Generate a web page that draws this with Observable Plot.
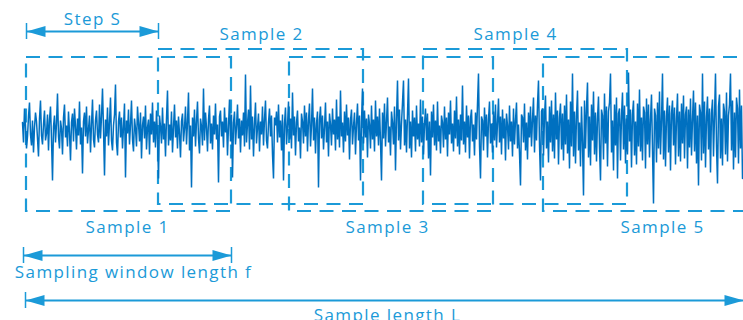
<!DOCTYPE html>
<html>
<head>
<meta charset="utf-8">
<script src="https://cdn.jsdelivr.net/npm/d3@7"></script>
<script src="https://cdn.jsdelivr.net/npm/@observablehq/plot@0.6"></script>
<style>
  html, body { margin: 0; padding: 0; background: #fff; }
  #chart { width: 743px; height: 320px; overflow: hidden; }
</style>
</head>
<body>
<div id="chart"></div>
<script>
// ---- Data (time in samples, amplitude in signal units) ----
// Signal amplitude, one value per time unit, starting at t = 0
const signal = [
  8, -12, 22, 5, -18, -6, 14, 28, -4, -15, 10, -22, 3, 18, 9, -8, -26, 12, 30, -5,
  -14, 6, 20, -10, -3, 16, -20, 11, 24, -9, -50, 4, 15, -12, 7, 37, -6, -18, 10, 2,
  -24, 13, 26, -7, 5, -16, 19, -2, -30, 8, 17, -11, 22, 4, -19, 12, -5, 29, -14, 3,
  -43, 9, 18, -6, 24, -13, 1, 15, -22, 6, 31, -9, -17, 10, 20, -4, -12, 26, -8, 14,
  42, 2, -45, 11, -6, 23, -15, 8, 33, -10, -20, 5, 16, 46, -12, -25, 9, 19, -7, 13,
  -18, 4, 27, -47, 10, -3, 21, -14, 6, 30, -9, -21, 12, 2, -16, 24, 7, -11, 18, -28,
  5, 14, -8, 25, -19, 3, 11, -24, 17, -4, 28, -12, 9, -17, 20, -6, -48, 15, 4, -13,
  23, -9, 7, -26, 12, 40, -15, 6, -10, 19, -22, 3, 26, -7, 10, -18, 14, -3, -27, 9,
  17, -11, 2, 24, -14, 8, 38, -20, 5, -57, 13, -6, 21, -16, 9, 29, -8, -23, 12, 4,
  -15, 42, -10, 18, 3, -21, 11, 25, -13, 7, -19, 15, -4, 27, -9, 6, -52, 14, 20, -6,
  9, -17, 23, -2, 13, -25, 5, 31, -11, 16, -47, 8, 19, -14, 4, 26, -8, 12, -22, 10,
  -5, 18, -16, 56, -12, 7, 21, -19, 45, -9, 14, -26, 6, 28, -13, 3, 17, -21, 9, -4,
  24, -15, 11, 30, -10, -18, 8, 22, -6, 15, -24, -48, 13, 5, 19, -12, 26, -7, 10, -20,
  16, -50, 7, 23, -14, 4, 29, -9, 12, -18, 38, -5, 14, -25, 8, 20, -11, 3, -28, 17,
  9, -13, 25, -6, 18, -21, 10, 27, -16, 5, 42, -10, 13, -23, 7, 19, -57, 11, 24, -8,
  15, -19, 3, 28, -12, 9, -26, 17, 6, -15, 22, -4, 11, -20, 31, -9, 14, -17, 40, -6,
  8, -22, 19, -11, 26, -5, 13, -29, 10, 21, -14, 4, 18, -24, 7, 27, -10, 15, -50, 9,
  42, -13, 20, -7, 12, -27, 16, 6, -18, 25, -9, 11, -21, 30, -6, 14, -15, 22, -11, -50,
  18, -8, 27, -16, 9, 33, -12, 4, -25, 19, 8, -14, 24, -40, 12, 50, -10, 21, -19, 7,
  28, 50, -15, 11, -22, 16, 52, -18, 9, -27, 20, -6, 13, -21, 25, -9, 7, -16, 31, -12,
  14, -24, 6, 22, -10, 17, -28, 9, -45, 19, -7, 26, -15, 10, -20, 29, -11, 5, -23, 15,
  8, -17, 24, -9, 13, -26, 18, -4, 30, -13, 7, -21, 20, -8, 34, -16, 11, -24, 16, -10,
  45, -14, 9, -22, 25, -7, 15, -28, 12, 21, -11, 6, -25, 18, -9, 27, 57, -15, -48, 14,
  10, -20, 23, -6, 16, -27, 11, 29, -13, 7, -22, 19, -10, 26, -17, 8, 32, -12, 14, -24,
  21, -8, 12, -30, 17, 5, -19, 25, -11, 9, -26, 22, -14, 10, 28, -18, 6, -23, -55, 16,
  13, -12, 27, -20, 8, -29, 18, -7, 24, -16, 11, 33, -22, 15, -10, 26, 50, -14, -50, 19,
  22, -25, 14, 35, -18, 9, -32, 24, -12, 30, -21, 16, -28, 38, -9, 20, -34, 13, 27, -19,
  17, -30, 25, -14, 36, -23, 11, -38, 29, -16, 57, -26, 19, -33, 15, 40, -20, 8, -36, 24,
  -12, -65, 30, -18, 22, 48, -27, 14, -35, 26, -10, 39, -24, 18, -31, 12, 34, -17, -50, 21,
  15, -29, 37, -13, 24, -36, 19, 28, 57, -22, 10, -40, 26, -15, 33, -48, 17, 22, -30, 14,
  38, -19, 25, -33, 12, -24, 58, -11, 21, -37, 16, 30, -25, 9, -34, 27, -16, 41, -21, 13,
  -30, 24, 18, -38, 32, -14, 26, -27, 11, 36, -20, -73, 22, 15, -32, 28, -18, 39, -24, 10,
  57, -29, 20, -36, 14, 33, -22, 25, -40, 17, 30, -15, 23, -34, 12, 37, -26, 19, -31, 27,
  -13, 35, -28, 16, 24, -38, 21, -17, 32, -25, 11, 40, -21, 28, -33, 15, -55, 26, 18, -30,
  57, -23, 29, -37, 13, 34, -19, 22, -42, 17, 31, -26, 14, 57, -16, -53, 24, 36, -28, 12,
  -35, 27, 19, -24, 38, -31, 15, 26, 57, -20, 30, -39, 18, -27, 33, 22, -33, 41, -18, 25,
  -48
];
const sampleStep = 1;

// Sampling windows
const windowNames = ["Sample 1", "Sample 2", "Sample 3", "Sample 4", "Sample 5"];
const windowStart = [4, 136, 267, 401, 521];
const windowEnd   = [209, 341, 471, 605, 726];
const windowRow   = [0, 1, 0, 1, 0];          // 0 = label below, 1 = label above
const labelAt     = [105, 239, 365, 493, 640]; // label centre (time)

// Dimension annotations
const dimNames  = ["Step S", "Sampling window length f", "Sample length L"];
const dimFrom   = [4, 1, 3];
const dimTo     = [136, 209, 721];
const dimLabelAt = [70, 111, 365];

// ---- Build ----
const blue = "#1b9ad8";
const sigColor = "#0070c0";

// amplitude levels used by the annotation layout (signal units)
const boxTop = [73, 81], boxBottom = [-81, -74];
const labelLevel = [-97, 96];
const dimLevel = [99, -125, -170];
const dimTextLevel = [111, -142, -185];
const tickHalf = 8;

const points = signal.map((v, i) => ({t: i * sampleStep, v}));
const windows = windowNames.map((name, i) => ({
  name, x1: windowStart[i], x2: windowEnd[i],
  y1: boxBottom[windowRow[i]], y2: boxTop[windowRow[i]],
  lx: labelAt[i], ly: labelLevel[windowRow[i]]
}));
const dims = dimNames.map((name, i) => ({
  name, x1: dimFrom[i], x2: dimTo[i], y: dimLevel[i],
  lx: dimLabelAt[i], ly: dimTextLevel[i]
}));
const ticks = [];
dims.forEach((d, i) => {
  ticks.push({x: d.x1, y: d.y});
  if (i < 2) ticks.push({x: d.x2, y: d.y});
});

const headRight = {draw(ctx) { ctx.moveTo(0, 0); ctx.lineTo(-19, -5.5); ctx.lineTo(-19, 5.5); ctx.closePath(); }};
const headLeft  = {draw(ctx) { ctx.moveTo(0, 0); ctx.lineTo(19, -5.5); ctx.lineTo(19, 5.5); ctx.closePath(); }};

const chart = Plot.plot({
  width: 743,
  height: 320,
  margin: 0,
  x: {domain: [-22, 721], axis: null},
  y: {domain: [-190, 130], axis: null},
  style: {fontFamily: "'Open Sans', sans-serif", letterSpacing: "1.4px", background: "#fff", overflow: "hidden"},
  marks: [
    Plot.rect(windows, {x1: "x1", x2: "x2", y1: "y1", y2: "y2", fill: "none", stroke: blue, strokeWidth: 2.2, strokeDasharray: "14,8.5"}),
    Plot.line(points, {x: "t", y: "v", stroke: sigColor, strokeWidth: 1.5, strokeLinejoin: "miter", strokeMiterlimit: 2}),
    Plot.ruleY(dims, {x1: "x1", x2: "x2", y: "y", stroke: blue, strokeWidth: 2}),
    Plot.ruleX(ticks, {x: "x", y1: d => d.y - tickHalf, y2: d => d.y + tickHalf, stroke: blue, strokeWidth: 1.5}),
    Plot.dot(dims, {x: "x1", y: "y", symbol: headLeft, fill: blue, stroke: "none"}),
    Plot.dot(dims, {x: "x2", y: "y", symbol: headRight, fill: blue, stroke: "none"}),
    Plot.text(windows, {x: "lx", y: "ly", text: "name", fill: blue, fontSize: 17}),
    Plot.text(dims, {x: "lx", y: "ly", text: "name", fill: blue, fontSize: 17})
  ]
});
document.getElementById("chart").appendChild(chart);
</script>
</body>
</html>
